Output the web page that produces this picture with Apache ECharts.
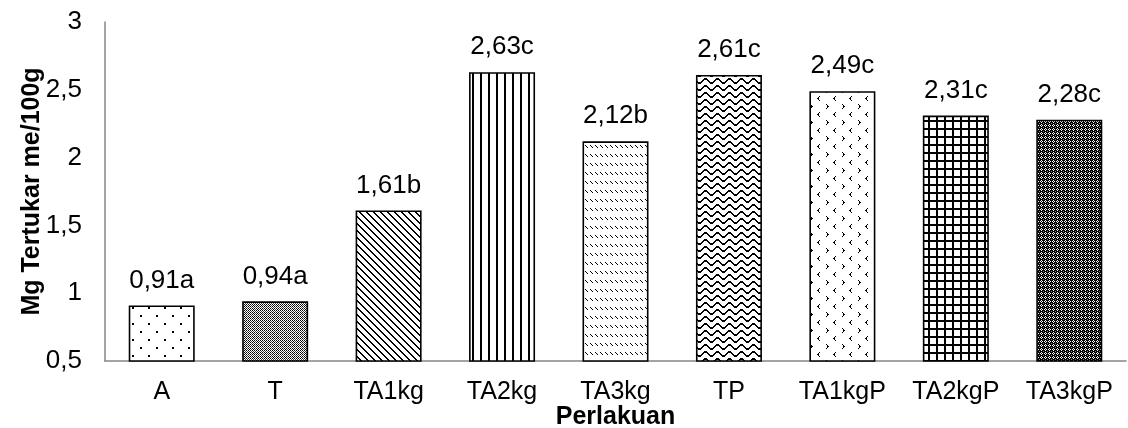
<!DOCTYPE html>
<html>
<head>
<meta charset="utf-8">
<script src="https://cdn.jsdelivr.net/npm/echarts@6/dist/echarts.min.js"></script>
<style>
  html, body { margin: 0; padding: 0; background: #fff; }
  #chart { width: 1128px; height: 428px; }
</style>
</head>
<body>
<div id="chart"></div>
<script>
// Exchangeable Mg per treatment, with significance letters
const categories = ['A', 'T', 'TA1kg', 'TA2kg', 'TA3kg', 'TP', 'TA1kgP', 'TA2kgP', 'TA3kgP'];
const values = [0.91, 0.94, 1.61, 2.63, 2.12, 2.61, 2.49, 2.31, 2.28];
const letters = ['a', 'a', 'b', 'c', 'b', 'c', 'c', 'c', 'c'];

const FONT = '"Liberation Sans", Arial, sans-serif';

// Small bitmap tiles used as hatch fills for the bars
function tile(w, h, draw, bg) {
  const c = document.createElement('canvas');
  c.width = w; c.height = h;
  const g = c.getContext('2d');
  g.fillStyle = bg || '#fff';
  g.fillRect(0, 0, w, h);
  g.fillStyle = '#000';
  draw(g, w, h);
  return c;
}
const dot = (g, x, y, w, h) => g.fillRect(x, y, w || 1, h || 1);

const patterns = [
  // sparse dots
  tile(16, 16, g => { dot(g, 4, 3, 2, 2); dot(g, 12, 11, 2, 2); }),
  // fine checker with grey seams
  tile(4, 4, g => {
    for (let y = 0; y < 4; y++) for (let x = 0; x < 4; x++) if ((x + y) % 2 === 0) dot(g, x, y);
    g.fillStyle = '#444'; dot(g, 1, 3); dot(g, 3, 1); dot(g, 3, 3);
  }),
  // wide downward diagonals
  tile(7, 7, g => { for (let i = 0; i < 7; i++) { dot(g, i, i); dot(g, (i + 1) % 7, i); } }),
  // vertical lines
  tile(8, 1, g => { dot(g, 0, 0, 2, 1); }),
  // short diagonal dashes in rows
  tile(5, 9, g => { dot(g, 0, 1); dot(g, 1, 2); dot(g, 2, 3); }),
  // waves
  tile(12, 7, g => {
    for (let x = 0; x < 12; x++) {
      const y = 3 + Math.round(2 * Math.sin(2 * Math.PI * x / 12));
      dot(g, x, y, 1, 2);
    }
  }),
  // scattered chevrons
  tile(16, 16, g => {
    dot(g, 3, 0); dot(g, 2, 1); dot(g, 1, 2, 2, 1); dot(g, 2, 3); dot(g, 3, 4);
    dot(g, 10, 8); dot(g, 11, 9); dot(g, 11, 10, 2, 1); dot(g, 11, 11); dot(g, 10, 12);
  }),
  // square grid
  tile(8, 8, g => { dot(g, 0, 0, 8, 2); dot(g, 0, 0, 2, 8); }),
  // dense dark diamonds
  tile(4, 4, g => {
    g.fillStyle = '#fff';
    dot(g, 1, 0); dot(g, 0, 1); dot(g, 2, 1); dot(g, 1, 2);
    g.fillStyle = '#888'; dot(g, 3, 3);
  }, '#000')
];

const chart = echarts.init(document.getElementById('chart'), null, { renderer: 'canvas' });

chart.setOption({
  animation: false,
  backgroundColor: '#fff',
  textStyle: { fontFamily: FONT },
  grid: { left: 105, right: 2, top: 22, bottom: 67, containLabel: false, outerBoundsMode: 'none' },
  xAxis: {
    type: 'category',
    data: categories,
    name: 'Perlakuan',
    nameLocation: 'middle',
    nameGap: 44,
    nameMoveOverlap: false,
    nameTextStyle: { fontFamily: FONT, fontWeight: 'bold', fontSize: 25, color: '#000' },
    axisLine: { lineStyle: { color: '#868686', width: 1.5 } },
    axisTick: { show: false },
    axisLabel: { fontFamily: FONT, fontSize: 25, color: '#000', margin: 19 }
  },
  yAxis: {
    type: 'value',
    min: 0.5,
    max: 3,
    interval: 0.5,
    name: 'Mg Tertukar me/100g',
    nameLocation: 'middle',
    nameRotate: 90,
    nameGap: 60,
    nameMoveOverlap: false,
    nameTextStyle: { fontFamily: FONT, fontWeight: 'bold', fontSize: 25, color: '#000' },
    axisLine: { show: true, lineStyle: { color: '#868686', width: 1.5 } },
    axisTick: { show: false },
    splitLine: { show: false },
    axisLabel: {
      fontFamily: FONT, fontSize: 26, color: '#000', margin: 23,
      formatter: v => String(v).replace('.', ',')
    }
  },
  series: [{
    type: 'bar',
    barWidth: 66,
    data: values.map((v, i) => ({
      value: v,
      itemStyle: { color: { image: patterns[i], repeat: 'repeat' } }
    })),
    itemStyle: { borderColor: '#000', borderWidth: 1.6 },
    label: {
      show: true,
      position: 'top',
      distance: 12,
      fontFamily: FONT,
      fontSize: 26,
      color: '#000',
      formatter: p => values[p.dataIndex].toFixed(2).replace('.', ',') + letters[p.dataIndex]
    }
  }]
});
</script>
</body>
</html>
